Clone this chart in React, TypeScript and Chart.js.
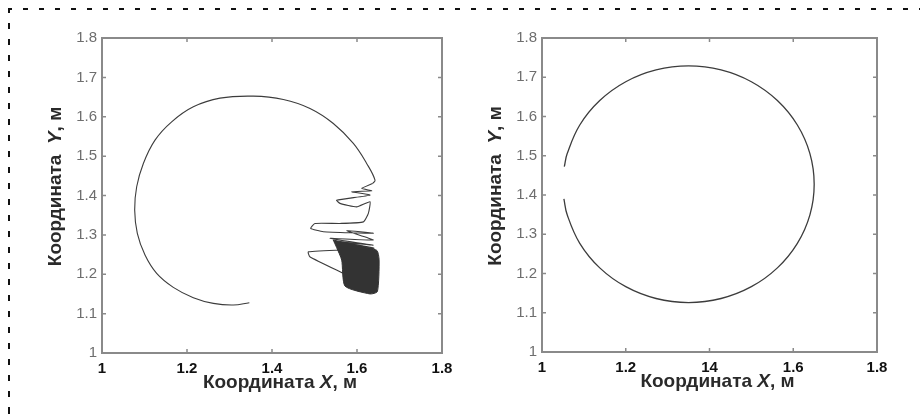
import React, { useEffect, useRef } from "react";
import { Chart, registerables } from "chart.js";

Chart.register(...registerables);

// Axis ticks
const xTickValues = [1, 1.2, 1.4, 1.6, 1.8];
const leftXTickLabels = ["1", "1.2", "1.4", "1.6", "1.8"];
const rightXTickLabels = ["1", "1.2", "14", "1.6", "1.8"];
const yTickLabels = ["1", "1.1", "1.2", "1.3", "1.4", "1.5", "1.6", "1.7", "1.8"];

// Left panel: trajectory spiralling in
const spiralX = [
  1.3467, 1.309, 1.262, 1.2149, 1.1678, 1.1286, 1.1012, 1.0831, 1.0769, 1.0816,
  1.0973, 1.1247, 1.1639, 1.2149, 1.2776, 1.3561, 1.4267, 1.4894, 1.5443, 1.5914,
  1.6227, 1.6424, 1.6369,
];
const spiralY = [
  1.1278, 1.1218, 1.126, 1.1405, 1.1667, 1.2022, 1.2487, 1.3037, 1.3629, 1.4222,
  1.4814, 1.5406, 1.5871, 1.6252, 1.6472, 1.6523, 1.6438, 1.621, 1.5829, 1.5322,
  1.4814, 1.4391, 1.4306,
];

// Left panel: the same trajectory breaking into oscillations
const swingX = [
  1.6369, 1.611, 1.6345, 1.5875, 1.6306, 1.552, 1.56, 1.599, 1.6306, 1.6267,
  1.615, 1.56, 1.501, 1.491, 1.5208, 1.6384, 1.5757, 1.638, 1.5365, 1.638,
  1.55, 1.64, 1.4855, 1.489, 1.568,
];
const swingY = [
  1.4306, 1.418, 1.412, 1.4095, 1.401, 1.388, 1.38, 1.371, 1.384, 1.3545,
  1.333, 1.329, 1.329, 1.3164, 1.308, 1.304, 1.3105, 1.287, 1.291, 1.274,
  1.283, 1.266, 1.257, 1.2445, 1.202,
];

// Left panel: region densely covered by the settled oscillation
const settledX = [1.544, 1.646, 1.652, 1.648, 1.6306, 1.5718, 1.564, 1.552, 1.544];
const settledY = [1.287, 1.261, 1.236, 1.156, 1.15, 1.17, 1.236, 1.268, 1.287];

// Right panel: nearly closed circular trajectory
const circleX = [
  1.0523, 1.0602, 1.0902, 1.1379, 1.2, 1.2724, 1.35, 1.4276, 1.5, 1.5621,
  1.6098, 1.6398, 1.65, 1.6398, 1.6098, 1.5621, 1.5, 1.4276, 1.35, 1.2724,
  1.2, 1.1379, 1.0902, 1.0602, 1.0533,
];
const circleY = [
  1.3902, 1.3495, 1.2768, 1.2143, 1.1664, 1.1363, 1.126, 1.1363, 1.1664, 1.2143,
  1.2768, 1.3495, 1.4275, 1.5055, 1.5783, 1.6407, 1.6886, 1.7187, 1.729, 1.7187,
  1.6886, 1.6407, 1.5783, 1.5055, 1.4721,
];

const toPoints = (xs: number[], ys: number[]) => xs.map((x, i) => ({ x, y: ys[i] }));

type Part = { text: string; italic?: boolean };

function drawParts(ctx: CanvasRenderingContext2D, parts: Part[], cx: number, cy: number, rotate: boolean) {
  const size = 19;
  const fam = '"Liberation Sans", Arial, sans-serif';
  const fontOf = (p: Part) => `${p.italic ? "italic " : ""}bold ${size}px ${fam}`;
  let total = 0;
  const widths = parts.map((p) => {
    ctx.font = fontOf(p);
    const w = ctx.measureText(p.text).width;
    total += w;
    return w;
  });
  ctx.save();
  ctx.translate(cx, cy);
  if (rotate) ctx.rotate(-Math.PI / 2);
  ctx.fillStyle = "#2a2a2a";
  ctx.textBaseline = "middle";
  ctx.textAlign = "left";
  let x = -total / 2;
  parts.forEach((p, i) => {
    ctx.font = fontOf(p);
    ctx.fillText(p.text, x, 0);
    x += widths[i];
  });
  ctx.restore();
}

const framePlugin = {
  id: "matlabFrame",
  afterDraw(chart: any) {
    const { ctx, chartArea: a, scales } = chart;
    const xs = scales.x;
    const ys = scales.y;
    ctx.save();
    ctx.strokeStyle = "#8a8a8a";
    ctx.lineWidth = 2;
    ctx.strokeRect(a.left, a.top, a.right - a.left, a.bottom - a.top);
    ctx.lineWidth = 1.5;
    const len = 4;
    ctx.beginPath();
    xs.ticks.forEach((t: any) => {
      const px = xs.getPixelForValue(t.value);
      ctx.moveTo(px, a.bottom);
      ctx.lineTo(px, a.bottom - len);
      ctx.moveTo(px, a.top);
      ctx.lineTo(px, a.top + len);
    });
    ys.ticks.forEach((t: any) => {
      const py = ys.getPixelForValue(t.value);
      ctx.moveTo(a.left, py);
      ctx.lineTo(a.left + len, py);
      ctx.moveTo(a.right, py);
      ctx.lineTo(a.right - len, py);
    });
    ctx.stroke();
    ctx.restore();

    const cx = (a.left + a.right) / 2;
    const cy = (a.top + a.bottom) / 2;
    drawParts(ctx, [{ text: "Координата " }, { text: "X", italic: true }, { text: ", м" }], cx + 8, a.bottom + 30, false);
    drawParts(ctx, [{ text: "Координата  " }, { text: "Y", italic: true }, { text: ", м" }], a.left - 46, cy - 9, true);
  },
};

function makeOptions(xLabels: string[], yWidth: number, rightPad: number, xHeight: number) {
  return {
    animation: false,
    responsive: false,
    maintainAspectRatio: false,
    layout: { padding: { top: 38, right: rightPad, bottom: 0, left: 0 } },
    plugins: { legend: { display: false }, tooltip: { enabled: false } },
    elements: { point: { radius: 0 } },
    scales: {
      x: {
        type: "linear",
        min: 1,
        max: 1.8,
        afterBuildTicks: (s: any) => {
          s.ticks = xTickValues.map((v) => ({ value: v }));
        },
        afterFit: (s: any) => {
          s.height = xHeight;
        },
        ticks: {
          callback: (_v: any, i: number) => xLabels[i],
          font: { family: '"Liberation Sans", Arial, sans-serif', size: 15, weight: "bold" },
          color: "#111",
          padding: 7,
          maxRotation: 0,
          autoSkip: false,
        },
        grid: { display: false, drawTicks: false },
        border: { display: false },
      },
      y: {
        type: "linear",
        min: 1,
        max: 1.8,
        afterBuildTicks: (s: any) => {
          s.ticks = yTickLabels.map((l) => ({ value: parseFloat(l) }));
        },
        afterFit: (s: any) => {
          s.width = yWidth;
        },
        ticks: {
          callback: (_v: any, i: number) => yTickLabels[i],
          font: { family: '"Liberation Sans", Arial, sans-serif', size: 15 },
          color: "#6e6e6e",
          padding: 5,
          autoSkip: false,
        },
        grid: { display: false, drawTicks: false },
        border: { display: false },
      },
    },
  };
}

function Panel(props: { datasets: any[]; xLabels: string[]; yWidth: number; rightPad: number; xHeight: number; left: number }) {
  const ref = useRef<HTMLCanvasElement | null>(null);
  useEffect(() => {
    if (!ref.current) return;
    const chart = new Chart(ref.current, {
      type: "scatter",
      data: { datasets: props.datasets },
      options: makeOptions(props.xLabels, props.yWidth, props.rightPad, props.xHeight) as any,
      plugins: [framePlugin],
    });
    return () => chart.destroy();
  }, []);
  return (
    <canvas
      ref={ref}
      width={460}
      height={414}
      style={{ position: "absolute", left: props.left, top: 0, width: 460, height: 414 }}
    />
  );
}

export default function App() {
  const lineColor = "#3c3c3c";
  const leftSets = [
    {
      label: "settled",
      data: toPoints(settledX, settledY),
      showLine: true,
      fill: "shape",
      backgroundColor: "#333",
      borderColor: "#333",
      borderWidth: 1,
      tension: 0.2,
    },
    {
      label: "spiral",
      data: toPoints(spiralX, spiralY),
      showLine: true,
      borderColor: lineColor,
      borderWidth: 1.1,
      tension: 0.4,
    },
    {
      label: "swing",
      data: toPoints(swingX, swingY),
      showLine: true,
      borderColor: lineColor,
      borderWidth: 1.1,
      tension: 0.15,
    },
  ];
  const rightSets = [
    {
      label: "trajectory",
      data: toPoints(circleX, circleY),
      showLine: true,
      borderColor: lineColor,
      borderWidth: 1.3,
      tension: 0.4,
    },
  ];
  const dash = "#111";
  return (
    <div style={{ position: "fixed", left: 0, top: 0, width: 920, height: 414, background: "#fff", overflow: "hidden" }}>
      <div
        style={{
          position: "absolute",
          left: 8,
          top: 8,
          width: 912,
          height: 2,
          background: `repeating-linear-gradient(to right, ${dash} 0 5px, transparent 5px 16px)`,
          backgroundPosition: "-1px 0",
        }}
      />
      <div
        style={{
          position: "absolute",
          left: 8,
          top: 8,
          width: 2,
          height: 406,
          background: `repeating-linear-gradient(to bottom, ${dash} 0 6px, transparent 6px 16px)`,
          backgroundPosition: "0 -1px",
        }}
      />
      <Panel datasets={leftSets} xLabels={leftXTickLabels} yWidth={102} rightPad={18} xHeight={61} left={0} />
      <Panel datasets={rightSets} xLabels={rightXTickLabels} yWidth={82} rightPad={43} xHeight={62} left={460} />
    </div>
  );
}
